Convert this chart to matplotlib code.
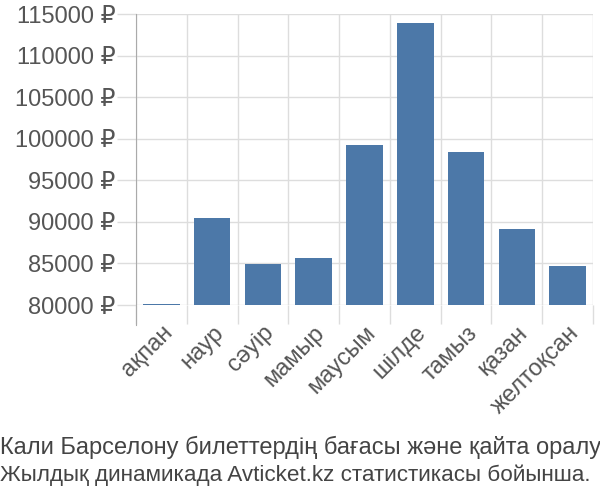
import numpy as np
import matplotlib.pyplot as plt
from matplotlib.ticker import FixedLocator, FuncFormatter

plt.rcParams['font.family'] = ['Liberation Sans', 'DejaVu Sans']

months = ['ақпан', 'наур', 'сәуір', 'мамыр', 'маусым', 'шілде', 'тамыз', 'қазан', 'желтоқсан']
prices = [80150, 90450, 84950, 85700, 99200, 113900, 98450, 89150, 84700]
footer = ['Кали Барселону билеттердің бағасы және қайта оралу',
          'Жылдық динамикада Avticket.kz статистикасы бойынша.']

fig = plt.figure(figsize=(6, 5), dpi=100)
ax = fig.add_axes([136 / 600, 1 - 305 / 500, (593 - 136) / 600, (305 - 14) / 500])

x = np.arange(len(months))
ax.bar(x, prices, width=0.72, color='#4c78a8', zorder=3)

ax.set_xlim(-0.5, len(months) - 0.5)
ax.set_ylim(80000, 115000)
ax.set_yticks(np.arange(80000, 115001, 5000))
ax.yaxis.set_major_formatter(FuncFormatter(lambda v, p: f'{int(v)} ₽'))

ax.set_xticks(x)
ax.set_xticklabels(months, rotation=45, ha='right', rotation_mode='anchor')
ax.xaxis.set_minor_locator(FixedLocator(np.arange(-0.5, len(months), 1)))
ax.tick_params(axis='x', which='major', length=0, pad=12, labelsize=17, labelcolor='#555555')
ax.tick_params(axis='x', which='minor', length=14, color='#dddddd', width=1)
ax.tick_params(axis='y', length=14, color='#dddddd', width=1, labelsize=17,
               labelcolor='#555555', pad=1)

ax.grid(True, which='minor', axis='x', color='#dddddd', linewidth=1, zorder=0)
ax.grid(True, which='major', axis='y', color='#dddddd', linewidth=1, zorder=0)

for side in ['top', 'right', 'bottom']:
    ax.spines[side].set_visible(False)
ax.spines['left'].set_color('#aaaaaa')
ax.spines['left'].set_bounds(80000 - 20 / 291 * 35000, 115000)
ax.spines['left'].set_clip_on(False)

fig.text(0.0, 1 - 447 / 500, footer[0], fontsize=17, color='#444444', va='center')
fig.text(0.0, 1 - 475 / 500, footer[1], fontsize=16.2, color='#444444', va='center')

fig.savefig('out.png', dpi=100)
